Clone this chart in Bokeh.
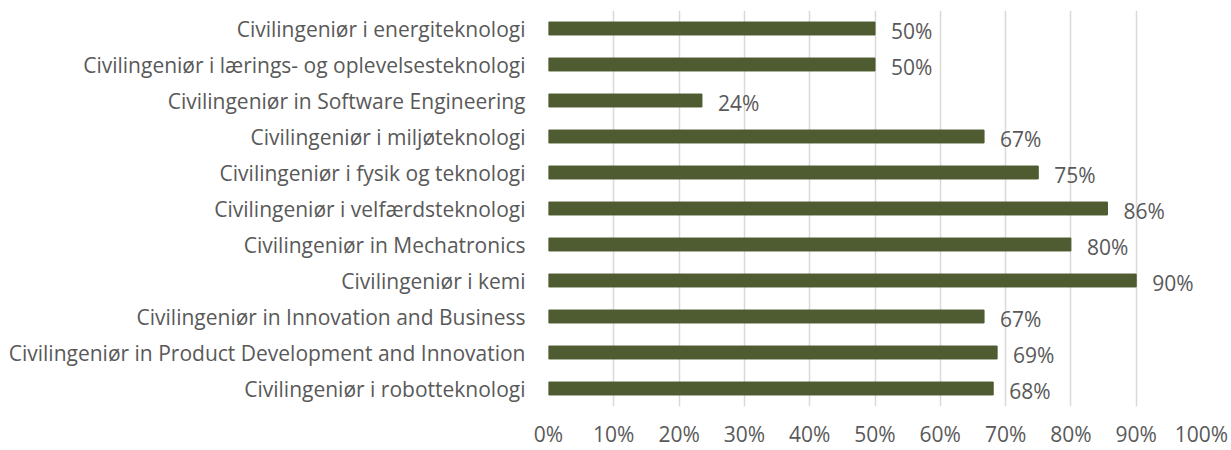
from bokeh.plotting import figure
from bokeh.models import ColumnDataSource, FactorRange, FixedTicker, NumeralTickFormatter, LabelSet
from bokeh.core.properties import value
from bokeh.embed import file_html
from bokeh.resources import INLINE

categories = [
    "Civilingeniør i energiteknologi",
    "Civilingeniør i lærings- og oplevelsesteknologi",
    "Civilingeniør in Software Engineering",
    "Civilingeniør i miljøteknologi",
    "Civilingeniør i fysik og teknologi",
    "Civilingeniør i velfærdsteknologi",
    "Civilingeniør in Mechatronics",
    "Civilingeniør i kemi",
    "Civilingeniør in Innovation and Business",
    "Civilingeniør in Product Development and Innovation",
    "Civilingeniør i robotteknologi",
]
values = [0.50, 0.50, 0.235, 0.667, 0.75, 0.856, 0.80, 0.90, 0.667, 0.687, 0.681]
labels = ["50%", "50%", "24%", "67%", "75%", "86%", "80%", "90%", "67%", "69%", "68%"]
x_ticks = [0.0, 0.1, 0.2, 0.3, 0.4, 0.5, 0.6, 0.7, 0.8, 0.9, 1.0]

FONT = "Open Sans"
TXT = "#595959"
FS = "21px"

src = ColumnDataSource(dict(cat=categories, val=values, lab=labels))

p = figure(
    y_range=FactorRange(factors=list(reversed(categories))),
    x_range=(0, 1),
    width=1231, height=450,
    min_border_left=548, min_border_right=30, min_border_top=10, min_border_bottom=42,
    output_backend="svg", toolbar_location=None,
)
p.outline_line_color = None

p.hbar(y="cat", right="val", left=0, height=0.36, source=src,
       fill_color="#4F5B31", line_color="#4F5B31")

p.add_layout(LabelSet(x="val", y="cat", text="lab", source=src, x_offset=16, y_offset=-2,
                      text_baseline="middle", text_align="left", text_color=TXT,
                      text_font=value(FONT), text_font_size=value(FS)))

p.xaxis.ticker = FixedTicker(ticks=x_ticks)
p.xaxis.formatter = NumeralTickFormatter(format="0%")
for ax in (p.xaxis, p.yaxis):
    ax.axis_line_color = None
    ax.major_tick_line_color = None
    ax.minor_tick_line_color = None
    ax.major_tick_out = 0
    ax.major_tick_in = 0
    ax.minor_tick_out = 0
    ax.major_label_text_font = FONT
    ax.major_label_text_font_size = FS
    ax.major_label_text_color = TXT
p.xaxis.major_label_standoff = 13
p.yaxis.major_label_standoff = 23

p.xgrid.grid_line_color = "#D9D9D9"
p.xgrid.grid_line_width = 1.5
p.ygrid.grid_line_color = None

open("out.html", "w").write(file_html(p, INLINE))
